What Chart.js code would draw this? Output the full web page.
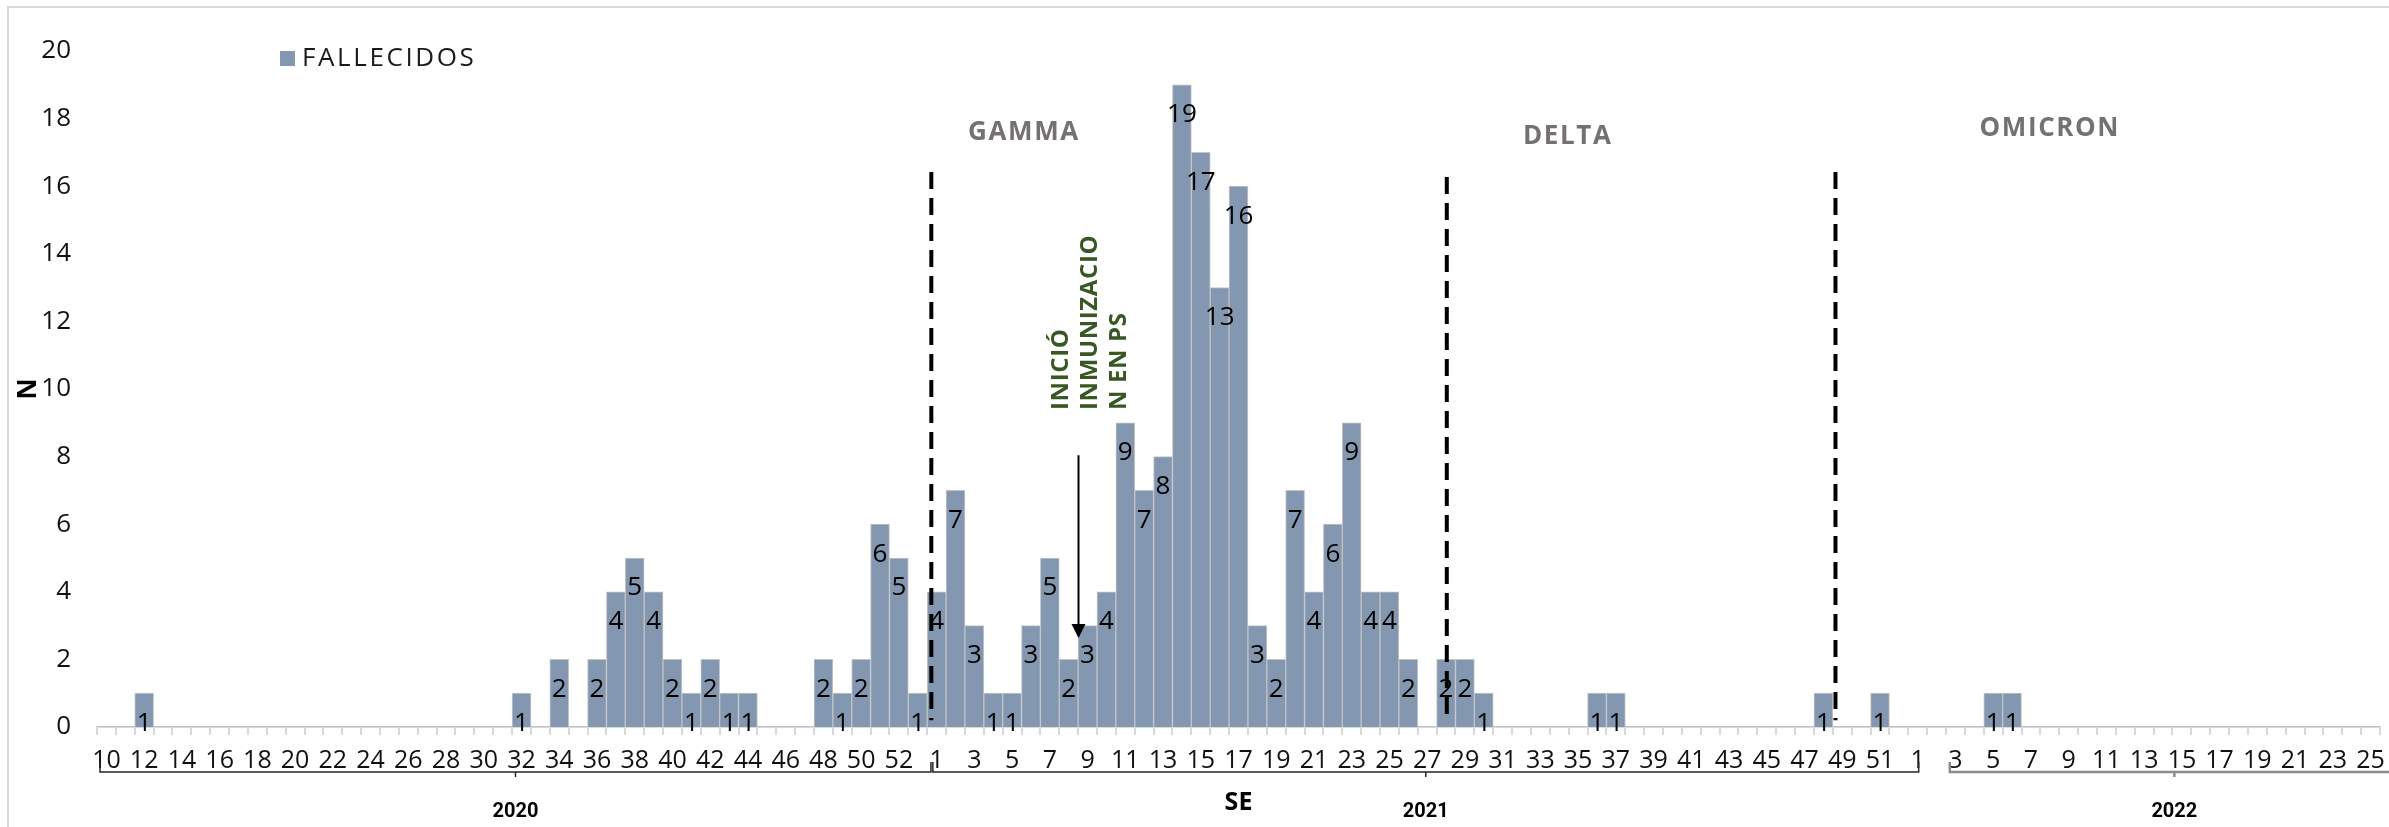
<!DOCTYPE html>
<html>
<head>
<meta charset="utf-8">
<script src="https://cdn.jsdelivr.net/npm/chart.js@4.4.1/dist/chart.umd.min.js"></script>
<style>
html,body{margin:0;padding:0;background:#fff;overflow:hidden}
canvas{display:block}
</style>
</head>
<body>
<canvas id="c" width="2389" height="827"></canvas>
<script>
// ---- data ----
const weeks2020 = [10,11,12,13,14,15,16,17,18,19,20,21,22,23,24,25,26,27,28,29,30,31,32,33,34,35,36,37,38,39,40,41,42,43,44,45,46,47,48,49,50,51,52,53];
const weeks2021 = [1,2,3,4,5,6,7,8,9,10,11,12,13,14,15,16,17,18,19,20,21,22,23,24,25,26,27,28,29,30,31,32,33,34,35,36,37,38,39,40,41,42,43,44,45,46,47,48,49,50,51,52];
const weeks2022 = [1,2,3,4,5,6,7,8,9,10,11,12,13,14,15,16,17,18,19,20,21,22,23,24,25];

const deaths2020 = [0,0,1,0,0,0,0,0,0,0,0,0,0,0,0,0,0,0,0,0,0,0,1,0,2,0,2,4,5,4,2,1,2,1,1,0,0,0,2,1,2,6,5,1];
const deaths2021 = [4,7,3,1,1,3,5,2,3,4,9,7,8,19,17,13,16,3,2,7,4,6,9,4,4,2,0,2,2,1,0,0,0,0,0,1,1,0,0,0,0,0,0,0,0,0,0,1,0,0,1,0];
const deaths2022 = [0,0,0,0,1,1,0,0,0,0,0,0,0,0,0,0,0,0,0,0,0,0,0,0,0];

const years = ['2020', '2021', '2022'];
const seriesName = 'FALLECIDOS';
const yTicks = [0,2,4,6,8,10,12,14,16,18,20];
const variantNames = ['GAMMA', 'DELTA', 'OMICRON'];
const annotationLines = ['INICIÓ', 'INMUNIZACIO', 'N EN PS'];

const labels = [...weeks2020, ...weeks2021, ...weeks2022].map(String);
const values = [...deaths2020, ...deaths2021, ...deaths2022];

// ---- annotation placement (category-edge units / y values) ----
const variantLineEdge = [44.22, 71.54, 92.14];
const variantLineTop = [16.42, 16.27, 16.42];
const variantTextEdge = [49.13, 77.95, 103.5];
const variantTextY = [17.6, 17.46, 17.69];
const arrowEdge = 52.02, arrowTop = 8.04, arrowTip = 2.63;
const noteEdges = [51.08, 52.62, 54.16], noteBottom = 9.38;
const bracketEdges = [[0.16, 44.2], [44.3, 96.55], [98.2, 122.0]];

const FONT = '"Open Sans", "Noto Sans", sans-serif';
const BAR = '#8497B0';

const overlay = {
  id: 'overlay',
  beforeDraw(chart) {
    const ctx = chart.ctx;
    ctx.save();
    ctx.fillStyle = '#fff';
    ctx.fillRect(0, 0, chart.width, chart.height);
    ctx.strokeStyle = '#d9d9d9';
    ctx.lineWidth = 2;
    ctx.beginPath();
    ctx.moveTo(8, chart.height + 5);
    ctx.lineTo(8, 7);
    ctx.lineTo(chart.width + 5, 7);
    ctx.stroke();
    ctx.restore();
  },
  afterDatasetsDraw(chart) {
    const ctx = chart.ctx;
    const meta = chart.getDatasetMeta(0);
    ctx.save();
    ctx.font = '26px ' + FONT;
    ctx.fillStyle = '#000';
    ctx.textAlign = 'center';
    ctx.textBaseline = 'middle';
    meta.data.forEach((el, i) => {
      const v = values[i];
      if (!v) return;
      ctx.fillText(String(v), el.x, el.y + 30);
    });
    ctx.restore();
  },
  afterDraw(chart) {
    const ctx = chart.ctx;
    const xs = chart.scales.x, ys = chart.scales.y;
    const n = labels.length;
    const ex = e => xs.left + e * (xs.width / n);
    const py = v => ys.getPixelForValue(v);

    ctx.save();
    // dashed variant lines
    ctx.strokeStyle = '#000';
    ctx.lineWidth = 4;
    ctx.setLineDash([17, 9]);
    variantLineEdge.forEach((e, i) => {
      ctx.beginPath();
      ctx.moveTo(ex(e), py(variantLineTop[i]));
      ctx.lineTo(ex(e), py(0.2));
      ctx.stroke();
    });
    ctx.setLineDash([]);

    // variant names
    ctx.fillStyle = '#767171';
    ctx.font = 'bold 26px ' + FONT;
    ctx.letterSpacing = '1.6px';
    ctx.textAlign = 'center';
    ctx.textBaseline = 'middle';
    variantNames.forEach((t, i) => ctx.fillText(t, ex(variantTextEdge[i]), py(variantTextY[i])));
    ctx.letterSpacing = '0px';

    // arrow
    const ax = ex(arrowEdge);
    const aTop = py(arrowTop), aTip = py(arrowTip);
    ctx.strokeStyle = '#000';
    ctx.lineWidth = 2;
    ctx.beginPath();
    ctx.moveTo(ax, aTop);
    ctx.lineTo(ax, aTip - 12);
    ctx.stroke();
    ctx.fillStyle = '#000';
    ctx.beginPath();
    ctx.moveTo(ax, aTip);
    ctx.lineTo(ax - 7, aTip - 14);
    ctx.lineTo(ax + 7, aTip - 14);
    ctx.closePath();
    ctx.fill();

    // rotated green note
    ctx.fillStyle = '#385723';
    ctx.font = 'bold 24px ' + FONT;
    ctx.letterSpacing = '0.6px';
    ctx.textAlign = 'left';
    ctx.textBaseline = 'middle';
    annotationLines.forEach((t, i) => {
      ctx.save();
      ctx.translate(ex(noteEdges[i]), py(noteBottom));
      ctx.rotate(-Math.PI / 2);
      ctx.fillText(t, 0, 0);
      ctx.restore();
    });
    ctx.letterSpacing = '0px';

    // legend
    const lx = chart.chartArea.left + 183, ly = chart.chartArea.top;
    ctx.fillStyle = BAR;
    ctx.fillRect(lx, ly, 15, 15);
    ctx.fillStyle = '#1a1a1a';
    ctx.font = '26px ' + FONT;
    ctx.letterSpacing = '2.6px';
    ctx.textAlign = 'left';
    ctx.textBaseline = 'middle';
    ctx.fillText(seriesName, lx + 22, ly + 8);
    ctx.letterSpacing = '0px';

    // year brackets (multi-level category axis)
    const by = xs.bottom - 55;
    bracketEdges.forEach((b, i) => {
      const x0 = ex(b[0]), x1 = ex(b[1]);
      const mid = (x0 + x1) / 2;
      ctx.strokeStyle = i === 2 ? '#8c8c8c' : '#262626';
      ctx.lineWidth = i === 2 ? 2.5 : 1.5;
      ctx.beginPath();
      ctx.moveTo(x0, by - 10);
      ctx.lineTo(x0, by);
      ctx.lineTo(x1, by);
      ctx.lineTo(x1, by - 10);
      ctx.moveTo(mid, by);
      ctx.lineTo(mid, by + 5);
      ctx.stroke();
      ctx.fillStyle = '#000';
      ctx.font = 'bold 20px Roboto, ' + FONT;
      ctx.textAlign = 'center';
      ctx.textBaseline = 'middle';
      ctx.fillText(years[i], mid, by + 40);
    });
    ctx.restore();
  }
};

new Chart(document.getElementById('c'), {
  type: 'bar',
  data: {
    labels: labels,
    datasets: [{
      label: seriesName,
      data: values,
      backgroundColor: BAR,
      borderColor: '#C4C4C4',
      borderWidth: ctx => (ctx.raw ? 1 : 0),
      barPercentage: 1,
      categoryPercentage: 1
    }]
  },
  options: {
    responsive: false,
    animation: false,
    devicePixelRatio: 1,
    layout: { padding: { top: 51, right: 9, bottom: 0, left: 0 } },
    plugins: { legend: { display: false }, tooltip: { enabled: false } },
    scales: {
      x: {
        afterFit(s) { s.height = 100; s.paddingLeft = 0; s.paddingRight = 0; },
        border: { display: true, color: '#d9d9d9', width: 2 },
        grid: { display: true, drawOnChartArea: false, drawTicks: true, tickLength: 8, color: '#d9d9d9', lineWidth: 2, offset: true },
        ticks: {
          autoSkip: false, maxRotation: 0, minRotation: 0, padding: 11,
          color: '#111', font: { family: FONT, size: 25 },
          callback: (v, i) => (i % 2 === 0 ? labels[i] : '')
        },
        title: { display: true, text: 'SE', color: '#000', font: { family: FONT, size: 25, weight: 'bold' }, padding: { top: 0, bottom: 9 } }
      },
      y: {
        min: 0, max: 20,
        afterFit(s) { s.width = 97; s.paddingTop = 0; s.paddingBottom = 0; },
        afterBuildTicks(s) { s.ticks = yTicks.map(v => ({ value: v })); },
        border: { display: false },
        grid: { display: false, drawTicks: false },
        ticks: { padding: 26, color: '#111', font: { family: FONT, size: 26 } },
        title: { display: true, text: 'N', color: '#000', font: { family: FONT, size: 26, weight: 'bold' }, padding: { top: 13, bottom: 0 } }
      }
    }
  },
  plugins: [overlay]
});
</script>
</body>
</html>
